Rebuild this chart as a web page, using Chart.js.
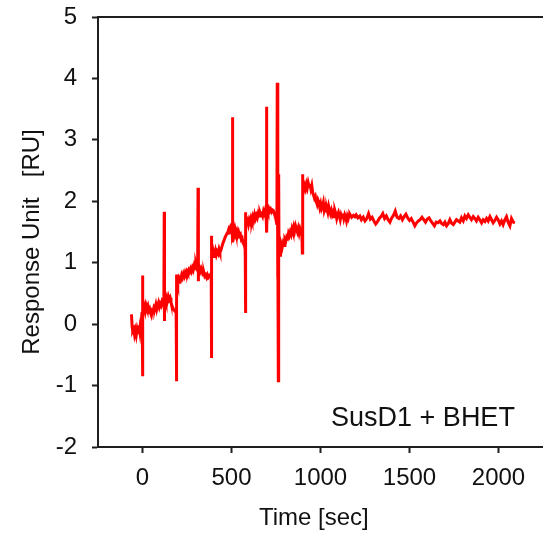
<!DOCTYPE html>
<html>
<head>
<meta charset="utf-8">
<script src="https://cdn.jsdelivr.net/npm/chart.js@4.4.0/dist/chart.umd.min.js"></script>
<style>
  html, body { margin: 0; padding: 0; background: #fff; }
  #wrap { width: 543px; height: 537px; }
</style>
</head>
<body>
<div id="wrap"><canvas id="myChart" width="543" height="537"></canvas></div>
<script>
// Zeit in Sekunden
var timeSec = [
  -62, -58, -55, -50, -45, -40, -35, -30, -25, -20, -15, -10, -5, -2,
  0, 1, 2, 5, 10, 15, 20, 25, 30, 35, 40, 45, 50, 55, 60, 65, 70, 75, 80, 85, 90, 95, 100, 105, 110, 115, 120,
  122, 123, 124, 128, 132, 136, 140, 145, 150, 155, 160, 165, 170, 175, 180, 185, 189,
  191, 192, 194, 198, 202, 206, 210, 215, 220, 225, 230, 235, 240, 245, 250, 255, 260, 265, 270, 275, 280, 285, 290, 295, 300, 305, 310,
  312, 313, 315, 320, 325, 330, 335, 340, 345, 350, 355, 360, 365, 370, 375, 380,
  386, 387, 388, 389, 393, 397, 402, 406, 410, 415, 420, 425, 430, 435, 440, 445, 450, 455, 460, 465, 470, 475, 480, 485, 490, 495, 500, 503,
  505, 506, 508, 512, 516, 520, 525, 530, 535, 540, 545, 550, 555, 560, 565, 570, 575,
  577, 578, 579, 581, 585, 590, 595, 600, 605, 610, 615, 620, 625, 630, 635, 640, 645, 650, 655, 660, 665, 670, 675, 680, 685, 690, 694,
  697, 698, 700, 705, 710, 715, 720, 725, 730, 735, 740, 745, 750,
  755, 757, 759, 761, 763, 765, 767, 770,
  775, 780, 785, 790, 795, 800, 805, 810, 815, 820, 825, 830, 835, 840, 845, 850, 855, 860, 865, 870, 875, 880, 885, 890, 895,
  898, 899, 901, 906, 911, 916, 921, 926, 931, 936, 941, 946, 951, 956, 961, 966, 971, 976, 981, 986, 991, 996,
  1001, 1006, 1011, 1016, 1021, 1026, 1031, 1036, 1041, 1046, 1051, 1056, 1061, 1066, 1071, 1076, 1081, 1086, 1091, 1096,
  1101, 1106, 1111, 1116, 1121, 1126, 1131, 1136, 1141, 1146, 1151, 1156, 1161,
  1165, 1175, 1185, 1193, 1200, 1210, 1221, 1230, 1240, 1250, 1260, 1270, 1280, 1290, 1300, 1310, 1320, 1330, 1340, 1350,
  1360, 1370, 1380, 1390, 1400, 1410, 1420, 1430, 1440, 1450, 1460, 1470, 1480, 1490, 1500, 1510, 1520, 1530, 1540, 1550,
  1560, 1570, 1580, 1590, 1600, 1610, 1620, 1630, 1640, 1650, 1660, 1671, 1680, 1690, 1699, 1708, 1718, 1727, 1737, 1746,
  1755, 1764, 1774, 1783, 1792, 1802, 1811, 1820, 1830, 1839, 1848, 1858, 1867, 1876, 1886, 1895, 1905, 1914, 1924, 1933,
  1942, 1952, 1961, 1970, 1980, 1989, 1998, 2008, 2017, 2026, 2036, 2045, 2054, 2064, 2073, 2083, 2092
];

// Response Unit [RU]
var responseRU = [
  0.16, -0.05, -0.11, -0.08, -0.17, -0.1, -0.18, -0.08, -0.14, -0.02, -0.12, 0.05, 0.12, 0.2,
  0.79, -0.85, 0.15, 0.22, 0.28, 0.21, 0.31, 0.26, 0.3, 0.22, 0.25, 0.18, 0.14, 0.22, 0.2, 0.28, 0.26, 0.32, 0.24, 0.3, 0.35, 0.28, 0.33, 0.3, 0.37, 0.34, 0.3,
  1.83, 0.05, 0.3, 0.38, 0.34, 0.42, 0.38, 0.45, 0.4, 0.43, 0.36, 0.3, 0.27, 0.24, 0.22, 0.2, 0.22,
  -0.93, 0.81, 0.7, 0.65, 0.72, 0.68, 0.75, 0.73, 0.8, 0.76, 0.82, 0.78, 0.84, 0.8, 0.86, 0.83, 0.88, 0.85, 0.9, 0.86, 0.92, 0.88, 0.95, 0.9, 0.98, 0.92, 0.95,
  2.22, 0.7, 0.88, 0.92, 0.86, 0.9, 0.85, 0.8, 0.84, 0.78, 0.8, 0.76, 0.8, 0.76, 0.78, 0.8,
  0.78, 1.44, -0.55, 1.1, 1.12, 1.18, 1.1, 1.15, 1.2, 1.13, 1.18, 1.15, 1.22, 1.17, 1.2, 1.25, 1.3, 1.34, 1.38, 1.42, 1.45, 1.48, 1.5, 1.55, 1.52, 1.58, 1.55, 1.6,
  3.37, 1.33, 1.5, 1.58, 1.5, 1.55, 1.48, 1.52, 1.45, 1.5, 1.44, 1.46, 1.38, 1.4, 1.32, 1.3, 1.25,
  1.2, 0.18, 1.82, 1.7, 1.64, 1.68, 1.62, 1.7, 1.66, 1.73, 1.68, 1.75, 1.7, 1.78, 1.72, 1.77, 1.73, 1.8, 1.76, 1.82, 1.78, 1.8, 1.76, 1.84, 1.8, 1.86, 1.82,
  3.54, 1.49, 1.86, 1.82, 1.88, 1.84, 1.87, 1.83, 1.86, 1.85, 1.8, 1.76, 1.7,
  1.62, 3.93, 0.75, 1.5, -0.92, 2.44, 1.2, 1.35,
  1.1, 1.3, 1.25, 1.32, 1.28, 1.38, 1.35, 1.42, 1.4, 1.48, 1.44, 1.5, 1.46, 1.55, 1.5, 1.58, 1.52, 1.6, 1.55, 1.5, 1.56, 1.48, 1.55, 1.5, 1.52,
  1.16, 2.44, 2.1, 2.18, 2.25, 2.2, 2.28, 2.22, 2.3, 2.24, 2.28, 2.2, 2.26, 2.15, 2.1, 2.05, 2.08, 2.0, 1.95, 2.02, 1.98, 1.9,
  1.96, 1.88, 1.92, 1.98, 1.85, 1.9, 1.84, 1.88, 1.82, 1.92, 1.86, 1.8, 1.85, 1.78, 1.82, 1.75, 1.85, 1.8, 1.72, 1.78,
  1.82, 1.76, 1.7, 1.78, 1.74, 1.8, 1.72, 1.78, 1.74, 1.68, 1.76, 1.72, 1.78,
  1.79, 1.74, 1.77, 1.75, 1.78, 1.73, 1.76, 1.7, 1.74, 1.68, 1.72, 1.8, 1.71, 1.74, 1.68, 1.63, 1.67, 1.72, 1.75, 1.8,
  1.72, 1.76, 1.7, 1.66, 1.73, 1.77, 1.84, 1.74, 1.72, 1.76, 1.7, 1.75, 1.79, 1.73, 1.69, 1.72, 1.66, 1.6, 1.65, 1.68,
  1.7, 1.74, 1.7, 1.66, 1.71, 1.73, 1.68, 1.64, 1.6, 1.66, 1.65, 1.68, 1.64, 1.62, 1.66, 1.6, 1.64, 1.7, 1.64, 1.62,
  1.66, 1.7, 1.68, 1.66, 1.73, 1.68, 1.76, 1.72, 1.78, 1.74, 1.7, 1.75, 1.72, 1.68, 1.74, 1.7, 1.65, 1.7, 1.67, 1.72,
  1.68, 1.75, 1.7, 1.65, 1.69, 1.74, 1.7, 1.63, 1.68, 1.62, 1.7, 1.75, 1.66, 1.6, 1.72, 1.66, 1.65
];

// Achsenbeschriftungen
var xTicks = [0, 500, 1000, 1500, 2000];
var yTicks = [-2, -1, 0, 1, 2, 3, 4, 5];
var annotationText = 'SusD1 + BHET';

var fontFamily = '"Liberation Sans", Arial, sans-serif';
var axisColor = '#1e1e1e';

// Beschriftung unten rechts im Diagramm
var labelPlugin = {
    id: 'sampleLabel',
    afterDatasetsDraw: function (chart) {
        var ctx = chart.ctx;
        var x = chart.scales.x.getPixelForValue(2092);
        var y = chart.scales.y.getPixelForValue(-1.66);
        ctx.save();
        ctx.font = '27px ' + fontFamily;
        ctx.fillStyle = '#111';
        ctx.textAlign = 'right';
        ctx.textBaseline = 'alphabetic';
        ctx.fillText(annotationText, x, y);
        ctx.restore();
    }
};

var points = timeSec.map(function (t, i) {
    return { x: t, y: responseRU[i] };
});

var plainLabel = function (value) { return String(value); };

var ctx = document.getElementById('myChart').getContext('2d');
var myChart = new Chart(ctx, {
    type: 'line',
    data: {
        datasets: [{
            data: points,
            borderColor: '#ff0000',
            borderWidth: 3,
            pointRadius: 0,
            tension: 0,
            fill: false
        }]
    },
    options: {
        responsive: false,
        animation: false,
        layout: { padding: 0 },
        plugins: {
            legend: { display: false },
            tooltip: { enabled: false }
        },
        scales: {
            x: {
                type: 'linear',
                position: 'bottom',
                min: -250,
                max: 2250,
                afterBuildTicks: function (scale) {
                    scale.ticks = xTicks.map(function (v) { return { value: v }; });
                },
                afterFit: function (scale) { scale.height = 90; },
                grid: { drawOnChartArea: false, drawTicks: true, tickLength: 6, tickWidth: 2, tickColor: axisColor },
                border: { display: true, color: axisColor, width: 2 },
                ticks: { font: { family: fontFamily, size: 24 }, color: '#111', padding: 11, maxRotation: 0, callback: plainLabel },
                title: {
                    display: true,
                    text: 'Time [sec]  ',
                    font: { family: fontFamily, size: 24 },
                    color: '#111',
                    padding: { top: 0, bottom: 4 }
                }
            },
            x2: {
                type: 'linear',
                position: 'top',
                min: -250,
                max: 2250,
                afterFit: function (scale) { scale.height = 17; },
                grid: { drawOnChartArea: false, drawTicks: false },
                border: { display: true, color: axisColor, width: 2 },
                ticks: { display: false }
            },
            y: {
                type: 'linear',
                min: -2,
                max: 5,
                afterBuildTicks: function (scale) {
                    scale.ticks = yTicks.map(function (v) { return { value: v }; });
                },
                afterFit: function (scale) {
                    scale.width = 98;
                    scale.paddingTop = 0;
                    scale.paddingBottom = 0;
                },
                grid: { drawOnChartArea: false, drawTicks: true, tickLength: 6, tickWidth: 2, tickColor: axisColor },
                border: { display: true, color: axisColor, width: 2 },
                ticks: { font: { family: fontFamily, size: 24 }, color: '#111', padding: 15, callback: plainLabel },
                title: {
                    display: true,
                    text: 'Response Unit   [RU]   ',
                    font: { family: fontFamily, size: 24 },
                    color: '#111',
                    padding: { top: 18, bottom: 0 }
                }
            }
        }
    },
    plugins: [labelPlugin]
});
</script>
</body>
</html>
